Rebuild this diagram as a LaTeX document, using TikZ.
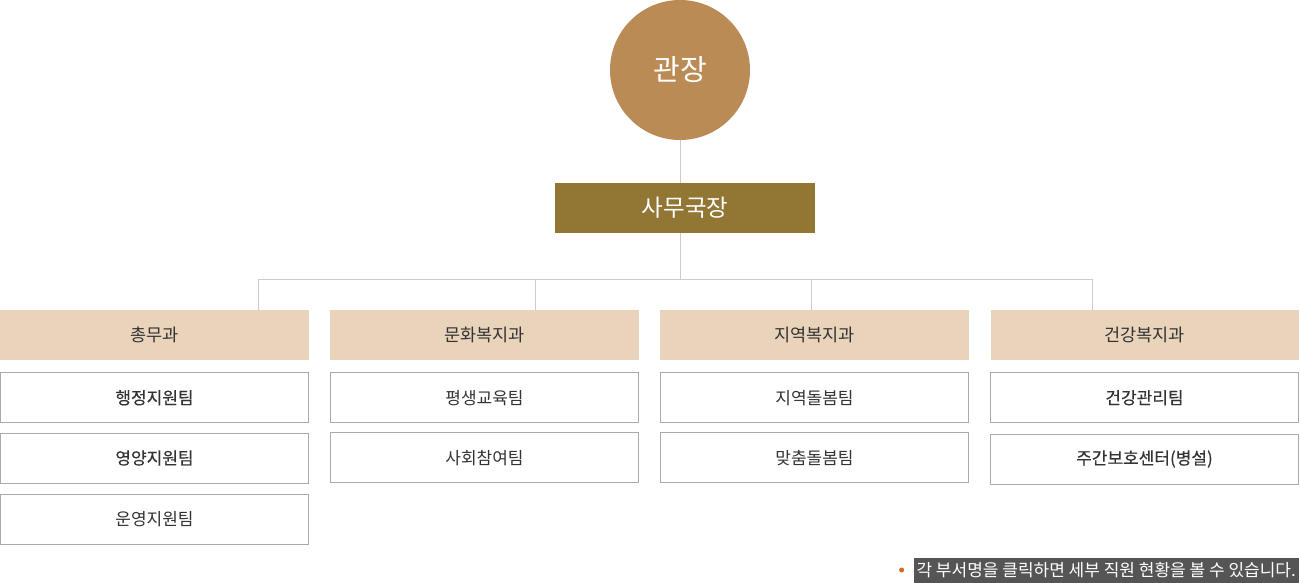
\documentclass[tikz,border=0pt]{standalone}
\usepackage{fontspec}
\setmainfont{Noto Sans CJK KR}
\newfontfamily\krstrong[FakeBold=0.3]{Noto Sans CJK KR}
\usetikzlibrary{calc, matrix, positioning}

\definecolor{chiefbrown}{HTML}{BB8B55}
\definecolor{secolive}{HTML}{927634}
\definecolor{deptbeige}{HTML}{E9D3BB}
\definecolor{teamgray}{HTML}{AAAAAA}
\definecolor{linegray}{HTML}{CCCCCC}
\definecolor{notegray}{HTML}{555555}
\definecolor{dotorange}{HTML}{D2691E}
\definecolor{labelgray}{HTML}{333333}

\tikzset{
  link/.style={draw=linegray, line width=1pt},
  dept/.style={fill=deptbeige, text=labelgray, font=\fontsize{17.5}{20}\selectfont},
  team/.style={draw=teamgray, fill=white, line width=1pt, text=labelgray,
               font=\fontsize{17}{20}\selectfont},
  teamstrong/.style={font=\krstrong\fontsize{17}{20}\selectfont},
}

\begin{document}
\begin{tikzpicture}[x=1pt, y=-1pt]
  \useasboundingbox (0,0) rectangle (1300,583);

  \node [circle, fill=chiefbrown, minimum size=140pt, inner sep=0pt, text=white,
         font=\fontsize{29}{32}\selectfont] (chief) at (680,70) {관장};
  \node [fill=secolive, minimum width=260pt, minimum height=50pt, inner sep=0pt,
         text=white, font=\fontsize{23.5}{26}\selectfont] (secretary) at (685,208) {사무국장};

  \matrix (orgchart)
    [matrix of nodes,%
     anchor=north west, inner sep=0pt, outer sep=0pt,
     nodes={outer sep=0pt, inner sep=0pt, minimum width=308pt, minimum height=50pt, team},
     row 1/.style={nodes={dept, draw=none}},
     column sep=21pt,
     row sep=9.2pt] at (0,310)
  {
    총무과 & 문화복지과 & 지역복지과 & 건강복지과 \\[3pt]
    |[teamstrong]| 행정지원팀 & 평생교육팀 & 지역돌봄팀 & |[teamstrong]| 건강관리팀 \\
    |[teamstrong]| 영양지원팀 & 사회참여팀 & 맞춤돌봄팀 & |[teamstrong]| 주간보호센터(병설) \\
    운영지원팀 & & & \\
  };

  \coordinate (bar) at ($(chief.south |- secretary.south) + (0,46)$);
  \draw [link] (chief.south) -- (chief.south |- secretary.north);
  \draw [link] (chief.south |- secretary.south) -- (bar);
  \foreach \c/\f in {1/0.838,2/0.666,3/0.49,4/0.33}{
    \draw [link] ($(orgchart-1-\c.north west)!\f!(orgchart-1-\c.north east)$) |- (bar);
    };

  \node [fill=notegray, text=white, anchor=east, inner xsep=3pt, inner ysep=0pt,
         minimum height=25pt, font=\fontsize{17}{19}\selectfont] (note) at (1299,570)
        {각 부서명을 클릭하면 세부 직원 현황을 볼 수 있습니다.};
  \node [circle, fill=dotorange, inner sep=0pt, minimum size=5pt, left=9pt of note] (bullet) {};
\end{tikzpicture}
\end{document}
